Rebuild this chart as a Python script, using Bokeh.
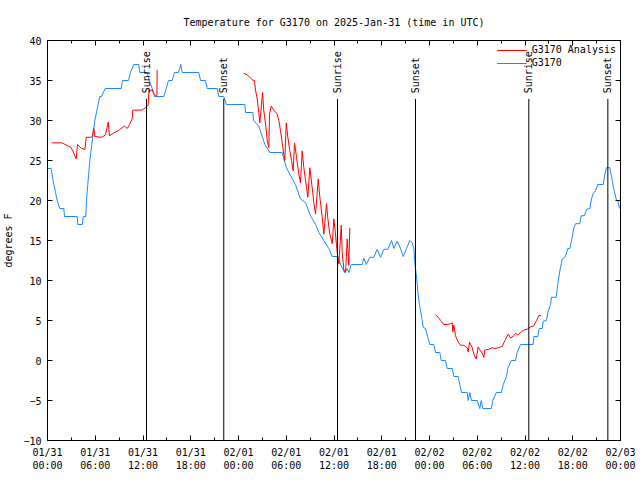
import math
from bokeh.plotting import figure
from bokeh.models import Range1d, FixedTicker, LinearAxis, Legend, LegendItem
from bokeh.core.properties import value
from bokeh.embed import file_html
from bokeh.resources import INLINE

FONT = "DejaVu Sans Mono"
NAN = float("nan")

# Hours since 2025-01-31 00:00 UTC
obs_hours = [0.0, 0.46, 0.79, 1.01, 1.22, 1.55, 2.05, 2.14, 3.73, 3.81, 4.36, 4.49, 4.81, 4.9, 5.06,
             5.32, 5.57, 5.94, 6.57, 6.79, 7.25, 9.26, 9.42, 10.18, 10.43, 10.84, 11.47, 11.6, 12.53,
             12.78, 13.16, 13.45, 14.61, 14.92, 15.2, 15.67, 15.96, 16.46, 16.75, 16.93, 19.01, 19.23,
             19.85, 20.07, 21.32, 21.53, 22.15, 22.49, 24.79, 24.88, 25.8, 25.89, 26.55, 26.98, 27.31,
             27.93, 29.49, 29.69, 30.03, 30.54, 31.16, 31.79, 32.42, 33.05, 33.68, 34.09, 34.72, 35.35,
             35.78, 36.48, 36.82, 37.32, 37.66, 37.86, 38.16, 39.55, 39.75, 40.05, 40.5, 41.0, 41.43,
             41.85, 42.26, 42.76, 43.23, 43.52, 43.94, 44.36, 44.7, 45.11, 45.53, 45.83, 46.03, 46.18,
             46.28, 46.46, 46.54, 46.75, 46.96, 47.21, 47.5, 47.79, 48.04, 48.54, 48.76, 49.3, 49.47,
             50.01, 50.23, 50.86, 51.06, 51.61, 51.81, 52.02, 52.74, 52.86, 53.06, 53.28, 53.99, 54.32,
             54.5, 54.7, 55.76, 55.96, 56.38, 57.05, 57.26, 57.68, 57.84, 58.27, 58.81, 59.02, 59.44,
             61.03, 61.11, 61.61, 61.79, 62.16, 62.29, 62.7, 62.87, 63.21, 63.33, 63.92, 64.12, 64.38,
             64.68, 65.09, 65.38, 65.63, 65.85, 66.14, 66.35, 66.89, 67.06, 67.48, 67.73, 68.15, 68.36,
             68.57, 68.86, 69.15, 69.83, 70.03, 70.24, 70.66, 70.96, 71.16, 71.5, 71.66, 71.88]
obs_temp = [24, 24, 22, 21, 20, 19, 19, 18, 18, 17, 17, 18, 18, 20, 22,
            25, 27, 30, 33, 33, 34, 34, 35, 35, 36, 37, 37, 36, 36,
            35, 34, 33, 33, 34, 35, 35, 36, 36, 37, 36, 36, 35,
            35, 34, 34, 33, 33, 32, 32, 31, 31, 30, 29.3, 28, 27,
            26, 26, 25.2, 24.1, 23.1, 22, 20.2, 19.75, 18.1, 17, 16, 15, 14,
            13, 13, 12, 11, 11.5, 11, 12, 12, 12.8, 12, 12.9, 12.9, 13.9,
            12.9, 13.9, 13.9, 15, 14, 14.9, 14, 13, 14, 15, 14.7, 14, 12,
            11.2, 9.6, 8.5, 6.9, 5.8, 4.15, 4, 2.9, 2, 2, 1, 1, 0,
            0, -1, -1, -2, -2, -3, -4, -4, -5, -4, -5, -5, -6,
            -5, -6, -6, -5, -4, -4, -3, -2, -1, 0, 0, 1, 2,
            2, 3, 3, 4, 4, 4.9, 5, 6, 7, 7.9, 7.9, 9.6, 11.2,
            12.7, 13, 14, 14, 15, 16.6, 17.1, 17.1, 18.1, 18.1, 18.9, 19, 20.2,
            20.9, 21.2, 22, 22, 23.3, 24.1, 24.1, 22.5, 21.4, 20, 20, 19]

# Analysis series (three pieces, NaN = gap)
ana_hours = [0.5, 0.67, 1.85, 2.6, 2.89, 3.18, 3.61, 3.77, 4.27, 4.71, 4.86, 5.4, 5.62, 5.82, 5.94,
             6.79, 7.29, 7.63, 7.79, 8.13, 8.54, 8.88, 9.39, 9.71, 10.02, 10.3, 10.64, 10.72, 11.9,
             12.31, 12.65, 12.75, 12.94, 13.16, 13.36, 13.57, 13.75, 13.78, NAN,
             24.67, 25.1, 25.42, 25.85, 26.01, 26.14, 26.35, 26.55, 26.68, 26.85, 27.02, 27.18, 27.39,
             27.61, 27.81, 27.9, 28.11, 28.44, 28.86, 29.07, 29.28, 29.49, 29.69, 29.82, 30.0, 30.2,
             30.45, 30.66, 30.87, 31.04, 31.29, 31.58, 31.79, 32.0, 32.21, 32.55, 32.71, 32.96, 33.26,
             33.46, 33.68, 34.02, 34.22, 34.52, 34.72, 35.06, 35.22, 35.47, 35.78, 35.98, 36.19, 36.4,
             36.61, 36.91, 37.03, 37.23, 37.45, 37.66, 37.86, 37.99, NAN,
             48.76, 49.1, 49.39, 49.8, 50.23, 50.64, 50.86, 50.93, 51.06, 51.27, 51.61, 51.9, 52.31,
             52.74, 52.86, 53.03, 53.37, 53.57, 53.87, 54.12, 54.41, 54.7, 54.83, 54.95, 55.45, 55.88,
             56.21, 56.64, 57.14, 57.47, 57.89, 58.18, 58.6, 58.81, 59.1, 59.44, 59.85, 60.28, 60.69,
             61.11, 61.45, 61.74, 62.04]
ana_temp = [27.3, 27.2, 27.2, 26.8, 26.7, 26.2, 25.2, 27, 26.5, 26.4, 27.9, 27.9, 28, 29, 28,
            27.9, 28.2, 29.8, 28.1, 28.3, 28.6, 28.7, 29.1, 29.3, 29, 29.5, 30.2, 31.3, 31.3,
            31.6, 31.9, 33.9, 33.7, 33.9, 33.3, 33.1, 33.1, 36.3, NAN,
            35.9, 35.7, 35.4, 35, 35, 33.8, 32.7, 31, 29.7, 31.6, 33.5, 31.2, 29.7,
            27.5, 26.6, 30.8, 31.8, 31.3, 30.8, 30, 28.7, 27.2, 25.8, 25, 29.7, 27.9,
            26.2, 25, 23.7, 27.2, 25.4, 23.3, 22.2, 26.2, 24.1, 21.6, 20.4, 24.1, 21.6,
            19.75, 18.3, 22.7, 20.4, 17.9, 15.8, 19.6, 17.8, 15.8, 14.6, 17.7, 15.8, 13.5,
            12.05, 16.9, 13.5, 11.4, 11, 15.2, 11.9, 16.6, NAN,
            5.7, 5.4, 5.0, 4.5, 4.5, 4.6, 4.7, 3.55, 4.4, 3.1, 2.3, 1.9, 1.9,
            1.6, 1.05, 2.3, 1.6, 0.8, 0.2, 1.7, 1.2, 0.8, 0.4, 1.3, 1.4, 1.6,
            1.5, 1.6, 1.75, 2.5, 3.3, 2.8, 3.1, 3.4, 3.2, 3.5, 3.8, 3.9, 4.2,
            4.35, 5.0, 5.6, 5.6]

event_hours = [12.44, 22.15, 36.44, 46.24, 60.48, 70.41]
event_names = ["Sunrise", "Sunset", "Sunrise", "Sunset", "Sunrise", "Sunset"]
event_line_top = 32.7
event_label_base = 33.4

tick_hours = list(range(0, 73, 6))
tick_labels = ["01/31\n00:00", "01/31\n06:00", "01/31\n12:00", "01/31\n18:00",
               "02/01\n00:00", "02/01\n06:00", "02/01\n12:00", "02/01\n18:00",
               "02/02\n00:00", "02/02\n06:00", "02/02\n12:00", "02/02\n18:00",
               "02/03\n00:00"]
minor_hours = list(range(0, 73, 3))
y_ticks = list(range(-10, 41, 5))

p = figure(width=640, height=480, output_backend="svg", toolbar_location=None,
           x_range=Range1d(0, 72), y_range=Range1d(-10, 40),
           title="Temperature for G3170 on 2025-Jan-31 (time in UTC)",
           min_border_left=47, min_border_right=20, min_border_top=40, min_border_bottom=40)
p.title.align = "center"
p.title.text_font = FONT
p.title.text_font_size = "10px"
p.title.text_font_style = "normal"
p.title.text_color = "black"
p.title.standoff = 25
p.outline_line_color = "black"
p.outline_line_width = 1
p.xgrid.visible = False
p.ygrid.visible = False
p.background_fill_color = "white"

xa = p.xaxis[0]
xa.ticker = FixedTicker(ticks=tick_hours, minor_ticks=minor_hours)
xa.major_label_overrides = {h: lab for h, lab in zip(tick_hours, tick_labels)}
ya = p.yaxis[0]
ya.ticker = FixedTicker(ticks=y_ticks, minor_ticks=[])
ya.axis_label = "degrees F"

# mirrored tick marks (no labels) on the right and top
ra = LinearAxis(ticker=FixedTicker(ticks=y_ticks, minor_ticks=[]))
ta = LinearAxis(ticker=FixedTicker(ticks=tick_hours, minor_ticks=minor_hours))
p.add_layout(ra, "right")
p.add_layout(ta, "above")
for ax in (ra, ta):
    ax.major_label_text_font_size = "10px"
    ax.major_label_text_color = None
    ax.major_label_standoff = 0
ra.major_label_overrides = {t: "" for t in y_ticks}
ta.major_label_overrides = {t: "" for t in tick_hours}

for ax in (xa, ya, ra, ta):
    ax.major_label_text_font = FONT
    ax.axis_label_text_font = FONT
    ax.axis_label_text_font_size = "10px"
    ax.axis_label_text_font_style = "normal"
    ax.axis_label_text_color = "black"
    ax.major_tick_in = 5
    ax.major_tick_out = 0
    ax.minor_tick_in = 3
    ax.minor_tick_out = 0
    ax.axis_line_color = "black"
    ax.major_tick_line_color = "black"
    ax.minor_tick_line_color = "black"
for ax in (xa, ya):
    ax.major_label_text_font_size = "10px"
    ax.major_label_text_color = "black"
xa.major_label_standoff = 6
ya.major_label_standoff = 6
ya.axis_label_standoff = 6

r_obs = p.line(obs_hours, obs_temp, line_color="#1a88ff", line_width=1.0)
r_ana = p.line(ana_hours, ana_temp, line_color="#ff0000", line_width=1.0)

p.segment(x0=event_hours, y0=[-10] * len(event_hours), x1=event_hours,
          y1=[event_line_top] * len(event_hours), line_color="black", line_width=1.0)
p.text(x=event_hours, y=[event_label_base] * len(event_hours), text=event_names,
       angle=math.pi / 2, text_align="left", text_baseline="middle",
       text_font=value(FONT), text_font_size="10px", text_color="black")

legend = Legend(items=[LegendItem(label="G3170 Analysis", renderers=[r_ana]),
                       LegendItem(label="G3170", renderers=[r_obs])],
                location="top_right")
legend.label_text_font = FONT
legend.label_text_font_size = "10px"
legend.label_text_color = "black"
legend.border_line_color = None
legend.background_fill_alpha = 0
legend.glyph_width = 30
legend.glyph_height = 10
legend.label_height = 10
legend.spacing = 2
legend.padding = 4
legend.margin = 4
p.add_layout(legend)

open("out.html", "w").write(file_html(p, INLINE))
